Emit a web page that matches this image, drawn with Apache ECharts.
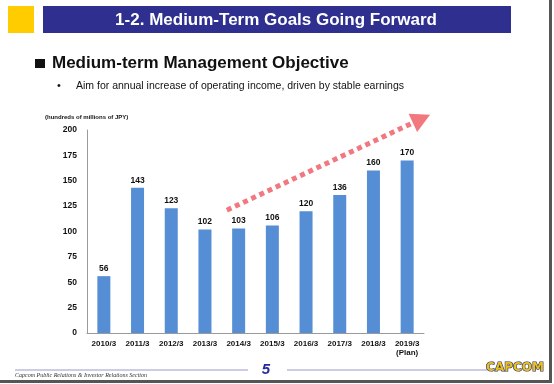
<!DOCTYPE html>
<html>
<head>
<meta charset="utf-8">
<script src="https://cdn.jsdelivr.net/npm/echarts@6/dist/echarts.min.js"></script>
<style>
html,body{margin:0;padding:0;background:#fff;}
#c{width:554px;height:384px;}
</style>
</head>
<body>
<div id="c"></div>
<script>
var categories = ['2010/3','2011/3','2012/3','2013/3','2014/3','2015/3','2016/3','2017/3','2018/3','2019/3\n(Plan)'];
var operatingIncome = [56,143,123,102,103,106,120,136,160,170];
var yTicks = [0,25,50,75,100,125,150,175,200];
var arrowStart = [3.65, 121];
var arrowEnd = [9.68, 215];

var chart = echarts.init(document.getElementById('c'), null, {renderer:'canvas'});
var fontMain = 'Liberation Sans';

var option = {
  animation:false,
  backgroundColor:'#fff',
  grid:{left:87, right:130, top:130, bottom:51, containLabel:false},
  xAxis:{
    type:'category',
    data:categories,
    axisLine:{lineStyle:{color:'#9a9a9a', width:1}},
    axisTick:{show:false},
    axisLabel:{color:'#111', fontSize:8, fontWeight:'bold', fontFamily:fontMain, margin:6, lineHeight:9, interval:0}
  },
  yAxis:{
    type:'value',
    min:0, max:200, interval:25,
    name:'(hundreds of millions of JPY)',
    nameLocation:'end',
    nameGap:10,
    nameTextStyle:{color:'#111', fontSize:6, fontWeight:'bold', fontFamily:fontMain, align:'left', padding:[0,0,0,-42]},
    axisLine:{show:true, lineStyle:{color:'#9a9a9a', width:1}},
    axisTick:{show:false},
    splitLine:{show:false},
    axisLabel:{color:'#111', fontSize:8.5, fontWeight:'bold', fontFamily:fontMain, margin:10,
      formatter:function(v){return yTicks.indexOf(v)>=0? String(v):'';}}
  },
  series:[{
    type:'bar',
    data:operatingIncome,
    barWidth:13,
    itemStyle:{color:'#558ed5'},
    label:{show:true, position:'top', distance:3, color:'#111', fontSize:8.5, fontWeight:'bold', fontFamily:fontMain}
  }],
  graphic:[
    {type:'rect', shape:{x:8,y:6,width:26,height:27}, style:{fill:'#ffcc00'}},
    {type:'rect', shape:{x:43,y:6,width:468,height:27}, style:{fill:'#2e2f8e'}},
    {type:'text', x:276, y:20, style:{text:'1-2. Medium-Term Goals Going Forward', fill:'#fff', font:'bold 17px "Liberation Sans"', align:'center', verticalAlign:'middle'}},
    {type:'rect', shape:{x:35,y:59,width:10,height:9}, style:{fill:'#111'}},
    {type:'text', x:52, y:63, style:{text:'Medium-term Management Objective', fill:'#111', font:'bold 17px "Liberation Sans"', align:'left', verticalAlign:'middle'}},
    {type:'text', x:57, y:86, style:{text:'•', fill:'#111', font:'11px "Liberation Sans"', align:'left', verticalAlign:'middle'}},
    {type:'text', x:76, y:86, style:{text:'Aim for annual increase of operating income, driven by stable earnings', fill:'#111', font:'10.5px "Liberation Sans"', align:'left', verticalAlign:'middle'}},
    {type:'rect', shape:{x:15,y:369.5,width:233,height:1}, style:{fill:'#9a9ad0'}},
    {type:'rect', shape:{x:287,y:369.5,width:200,height:1}, style:{fill:'#9a9ad0'}},
    {type:'text', x:266, y:370, style:{text:'5', fill:'#2a2aa0', font:'italic bold 15px "Liberation Sans"', align:'center', verticalAlign:'middle'}},
    {type:'text', x:15, y:375, style:{text:'Capcom Public Relations & Investor Relations Section', fill:'#333', font:'italic 6px "Liberation Serif"', align:'left', verticalAlign:'middle'}},
    {type:'text', x:515, y:368, style:{text:'CAPCOM', fill:'#e8c21a', stroke:'#2a2a70', lineWidth:1.2, font:'bold 12px "DejaVu Sans"', align:'center', verticalAlign:'middle'}},
    {type:'rect', shape:{x:549,y:0,width:3,height:383}, style:{fill:'#555'}},
    {type:'rect', shape:{x:0,y:380,width:552,height:3}, style:{fill:'#555'}}
  ]
};
chart.setOption(option);

function toPixel(pt){
  var i = Math.floor(pt[0]), f = pt[0]-i;
  var a = chart.convertToPixel({xAxisIndex:0, yAxisIndex:0}, [0, pt[1]]);
  var b = chart.convertToPixel({xAxisIndex:0, yAxisIndex:0}, [1, pt[1]]);
  var step = b[0]-a[0];
  return [a[0] + step*(i+f), a[1]];
}
var p0 = toPixel(arrowStart);
var p1 = toPixel(arrowEnd);
var dx = p1[0]-p0[0], dy = p1[1]-p0[1];
var len = Math.sqrt(dx*dx+dy*dy);
var ux = dx/len, uy = dy/len;
var headLen = 19, headHalf = 10;
var bx = p1[0]-ux*headLen, by = p1[1]-uy*headLen;
var nx = -uy, ny = ux;
var g = option.graphic.slice();
g.push({type:'line', shape:{x1:p0[0], y1:p0[1], x2:bx, y2:by}, style:{stroke:'#f27880', lineWidth:5, lineDash:[5,4]}});
g.push({type:'polygon', shape:{points:[[p1[0],p1[1]],[bx+nx*headHalf, by+ny*headHalf],[bx-nx*headHalf, by-ny*headHalf]]}, style:{fill:'#f27880'}});
chart.setOption({graphic:g});
</script>
</body>
</html>
